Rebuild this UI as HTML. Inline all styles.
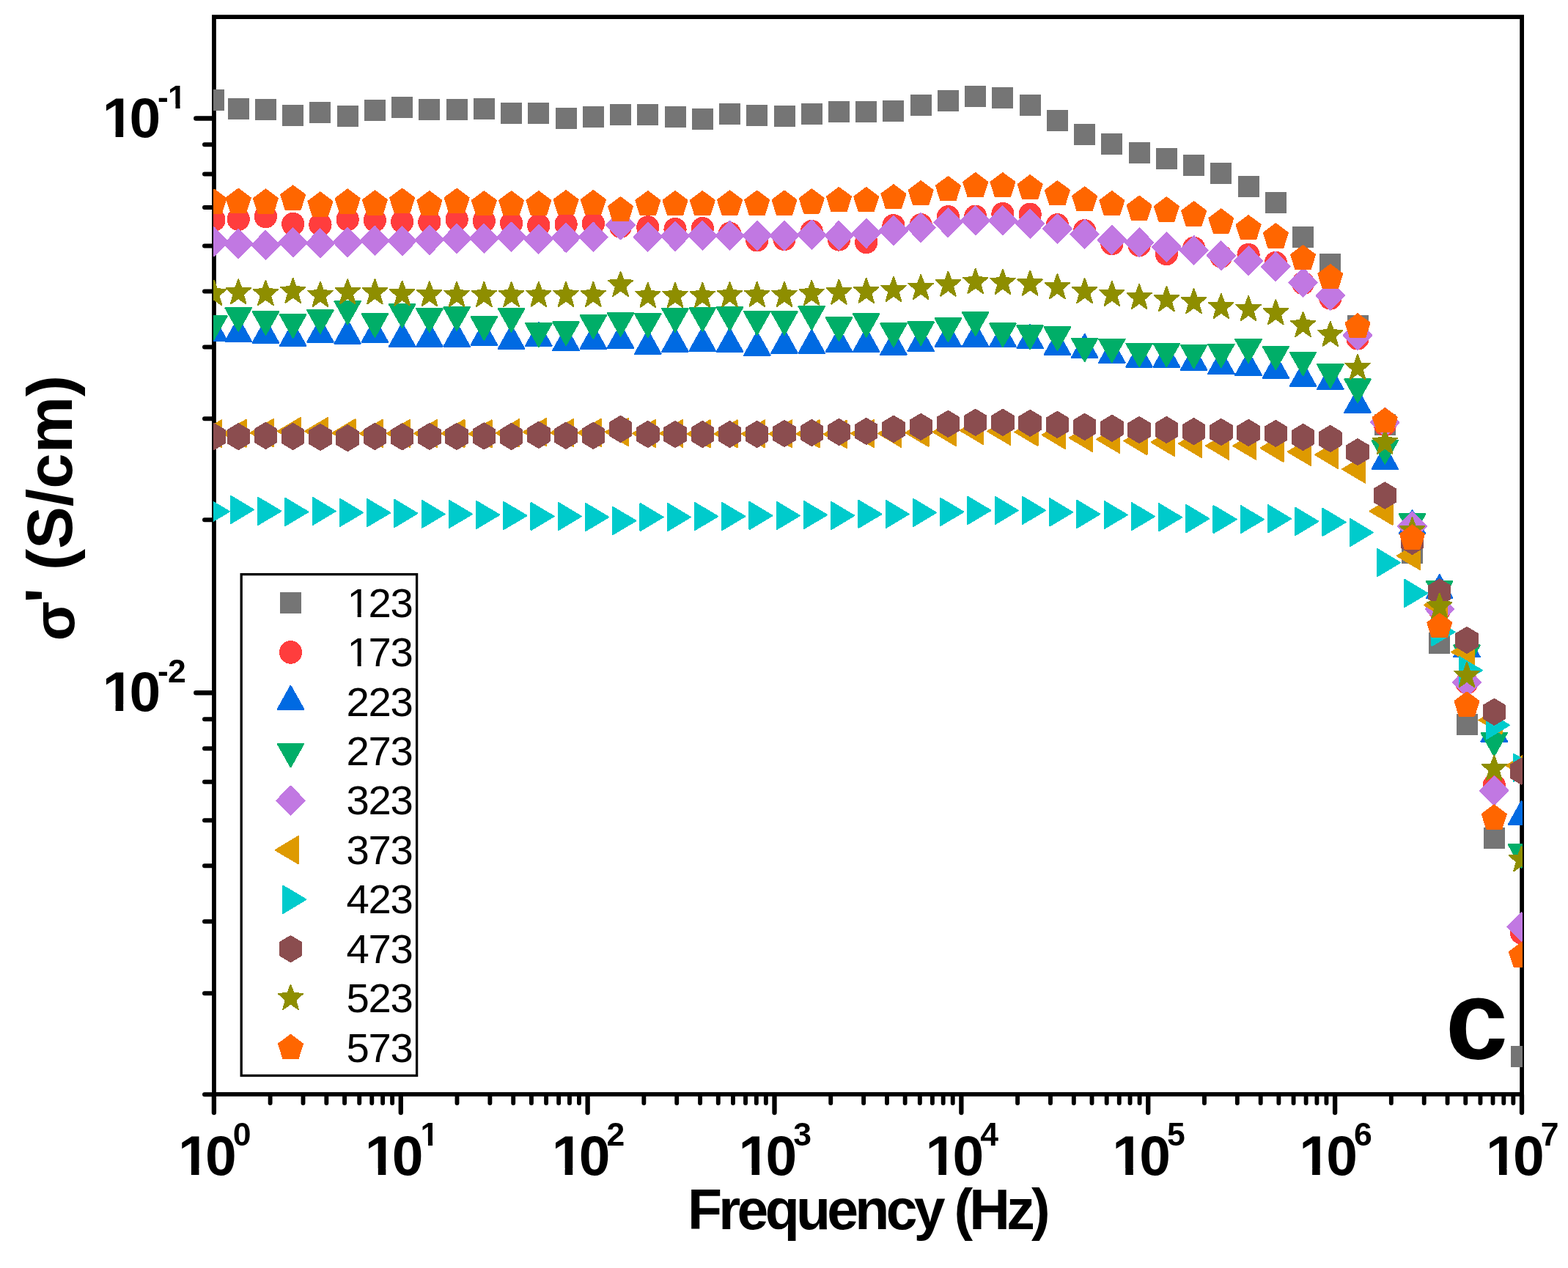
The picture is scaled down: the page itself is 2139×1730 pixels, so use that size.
<!DOCTYPE html>
<html lang="en"><head><meta charset="utf-8"><title>Conductivity vs frequency</title>
<style>html,body{margin:0;padding:0;background:#fff;overflow:hidden}svg{display:block}text{font-family:"Liberation Sans",sans-serif;fill:#000}.b{font-weight:bold}</style>
</head><body>
<svg width="2139" height="1730" viewBox="0 0 2139 1730" role="img" aria-label="Conductivity versus frequency at ten temperatures">
<rect width="2139" height="1730" fill="#fff"/>
<defs><clipPath id="pc"><rect x="290.9" y="23.1" width="1786.1" height="1469.9"/></clipPath></defs>
<g stroke="#000" stroke-linecap="round" fill="none">
<path stroke-width="6.3" d="M291.9 1494V1518M546.77 1494V1518M801.64 1494V1518M1056.51 1494V1518M1311.38 1494V1518M1566.25 1494V1518M1821.12 1494V1518M2075.99 1494V1518"/>
<path stroke-width="5.9" d="M368.62 1494V1505M413.5 1494V1505M445.35 1494V1505M470.05 1494V1505M490.23 1494V1505M507.29 1494V1505M522.07 1494V1505M535.11 1494V1505M623.49 1494V1505M668.37 1494V1505M700.22 1494V1505M724.92 1494V1505M745.1 1494V1505M762.16 1494V1505M776.94 1494V1505M789.98 1494V1505M878.36 1494V1505M923.24 1494V1505M955.09 1494V1505M979.79 1494V1505M999.97 1494V1505M1017.03 1494V1505M1031.81 1494V1505M1044.85 1494V1505M1133.23 1494V1505M1178.11 1494V1505M1209.96 1494V1505M1234.66 1494V1505M1254.84 1494V1505M1271.9 1494V1505M1286.68 1494V1505M1299.72 1494V1505M1388.1 1494V1505M1432.98 1494V1505M1464.83 1494V1505M1489.53 1494V1505M1509.71 1494V1505M1526.77 1494V1505M1541.55 1494V1505M1554.59 1494V1505M1642.97 1494V1505M1687.85 1494V1505M1719.7 1494V1505M1744.4 1494V1505M1764.58 1494V1505M1781.64 1494V1505M1796.42 1494V1505M1809.46 1494V1505M1897.84 1494V1505M1942.72 1494V1505M1974.57 1494V1505M1999.27 1494V1505M2019.45 1494V1505M2036.51 1494V1505M2051.29 1494V1505M2064.33 1494V1505"/>
<path stroke-width="6.6" d="M290.95 161.5H267.4M290.95 945.3H267.4"/>
<path stroke-width="6" d="M290.95 709.35H279M290.95 571.33H279M290.95 473.41H279M290.95 397.45H279M290.95 335.39H279M290.95 282.91H279M290.95 237.46H279M290.95 197.36H279M290.95 1493.15H279M290.95 1355.13H279M290.95 1257.21H279M290.95 1181.25H279M290.95 1119.19H279M290.95 1066.71H279M290.95 1021.26H279M290.95 981.16H279"/>
</g>
<rect x="291.95" y="23.1" width="1784.15" height="1469.9" fill="none" stroke="#000" stroke-width="5.8"/>
<g clip-path="url(#pc)" shape-rendering="crispEdges">
<g fill="#757575">
<rect x="277.4" y="121.5" width="29" height="29"/><rect x="310.7" y="133.5" width="29" height="29"/><rect x="347.94" y="135.4" width="29" height="29"/><rect x="385.18" y="143" width="29" height="29"/><rect x="422.42" y="138.5" width="29" height="29"/><rect x="459.66" y="143.5" width="29" height="29"/><rect x="496.9" y="135.9" width="29" height="29"/><rect x="534.14" y="132" width="29" height="29"/><rect x="571.38" y="135" width="29" height="29"/><rect x="608.62" y="135.4" width="29" height="29"/><rect x="645.86" y="133.5" width="29" height="29"/><rect x="683.1" y="140" width="29" height="29"/><rect x="720.34" y="140" width="29" height="29"/><rect x="757.58" y="146.5" width="29" height="29"/><rect x="794.82" y="144.5" width="29" height="29"/><rect x="832.06" y="141.9" width="29" height="29"/><rect x="869.3" y="141.9" width="29" height="29"/><rect x="906.54" y="145" width="29" height="29"/><rect x="943.78" y="148" width="29" height="29"/><rect x="981.02" y="140.6" width="29" height="29"/><rect x="1018.26" y="143" width="29" height="29"/><rect x="1055.5" y="143.5" width="29" height="29"/><rect x="1092.74" y="140.6" width="29" height="29"/><rect x="1129.98" y="138" width="29" height="29"/><rect x="1167.22" y="138" width="29" height="29"/><rect x="1204.46" y="137" width="29" height="29"/><rect x="1241.7" y="128.9" width="29" height="29"/><rect x="1278.94" y="122.9" width="29" height="29"/><rect x="1316.18" y="117" width="29" height="29"/><rect x="1353.42" y="119.4" width="29" height="29"/><rect x="1390.66" y="128.9" width="29" height="29"/><rect x="1427.9" y="149.6" width="29" height="29"/><rect x="1465.14" y="168.5" width="29" height="29"/><rect x="1502.38" y="182.4" width="29" height="29"/><rect x="1539.62" y="194" width="29" height="29"/><rect x="1576.86" y="202" width="29" height="29"/><rect x="1614.1" y="210.9" width="29" height="29"/><rect x="1651.34" y="221.9" width="29" height="29"/><rect x="1688.58" y="240.4" width="29" height="29"/><rect x="1725.82" y="261.5" width="29" height="29"/><rect x="1763.06" y="308.5" width="29" height="29"/><rect x="1800.3" y="346" width="29" height="29"/><rect x="1837.54" y="429.9" width="29" height="29"/><rect x="1874.78" y="564.8" width="29" height="29"/><rect x="1912.02" y="739.9" width="29" height="29"/><rect x="1949.26" y="862.8" width="29" height="29"/><rect x="1986.5" y="973.7" width="29" height="29"/><rect x="2023.74" y="1128.7" width="29" height="29"/><rect x="2060.98" y="1427" width="29" height="29"/>
</g>
<g fill="#ff3d3d">
<ellipse cx="291.9" cy="300" rx="15.6" ry="15.9"/><ellipse cx="325.2" cy="299" rx="15.6" ry="15.9"/><ellipse cx="362.44" cy="295.4" rx="15.6" ry="15.9"/><ellipse cx="399.68" cy="305.7" rx="15.6" ry="15.9"/><ellipse cx="436.92" cy="306.5" rx="15.6" ry="15.9"/><ellipse cx="474.16" cy="299.4" rx="15.6" ry="15.9"/><ellipse cx="511.4" cy="300.5" rx="15.6" ry="15.9"/><ellipse cx="548.64" cy="302.5" rx="15.6" ry="15.9"/><ellipse cx="585.88" cy="302.9" rx="15.6" ry="15.9"/><ellipse cx="623.12" cy="299.4" rx="15.6" ry="15.9"/><ellipse cx="660.36" cy="301.5" rx="15.6" ry="15.9"/><ellipse cx="697.6" cy="304.5" rx="15.6" ry="15.9"/><ellipse cx="734.84" cy="307.5" rx="15.6" ry="15.9"/><ellipse cx="772.08" cy="306" rx="15.6" ry="15.9"/><ellipse cx="809.32" cy="305" rx="15.6" ry="15.9"/><ellipse cx="846.56" cy="309.1" rx="15.6" ry="15.9"/><ellipse cx="883.8" cy="310.1" rx="15.6" ry="15.9"/><ellipse cx="921.04" cy="312.9" rx="15.6" ry="15.9"/><ellipse cx="958.28" cy="311.9" rx="15.6" ry="15.9"/><ellipse cx="995.52" cy="318.6" rx="15.6" ry="15.9"/><ellipse cx="1032.76" cy="327.6" rx="15.6" ry="15.9"/><ellipse cx="1070" cy="326.2" rx="15.6" ry="15.9"/><ellipse cx="1107.24" cy="315.9" rx="15.6" ry="15.9"/><ellipse cx="1144.48" cy="326.7" rx="15.6" ry="15.9"/><ellipse cx="1181.72" cy="330.3" rx="15.6" ry="15.9"/><ellipse cx="1218.96" cy="308" rx="15.6" ry="15.9"/><ellipse cx="1256.2" cy="307" rx="15.6" ry="15.9"/><ellipse cx="1293.44" cy="295.9" rx="15.6" ry="15.9"/><ellipse cx="1330.68" cy="295.5" rx="15.6" ry="15.9"/><ellipse cx="1367.92" cy="291.9" rx="15.6" ry="15.9"/><ellipse cx="1405.16" cy="292.5" rx="15.6" ry="15.9"/><ellipse cx="1442.4" cy="307" rx="15.6" ry="15.9"/><ellipse cx="1479.64" cy="315" rx="15.6" ry="15.9"/><ellipse cx="1516.88" cy="332.3" rx="15.6" ry="15.9"/><ellipse cx="1554.12" cy="334.4" rx="15.6" ry="15.9"/><ellipse cx="1591.36" cy="346.4" rx="15.6" ry="15.9"/><ellipse cx="1628.6" cy="338.6" rx="15.6" ry="15.9"/><ellipse cx="1665.84" cy="349.8" rx="15.6" ry="15.9"/><ellipse cx="1703.08" cy="347.8" rx="15.6" ry="15.9"/><ellipse cx="1740.32" cy="358.7" rx="15.6" ry="15.9"/><ellipse cx="1777.56" cy="386.4" rx="15.6" ry="15.9"/><ellipse cx="1814.8" cy="406.8" rx="15.6" ry="15.9"/><ellipse cx="1852.04" cy="461.7" rx="15.6" ry="15.9"/><ellipse cx="1889.28" cy="579.3" rx="15.6" ry="15.9"/><ellipse cx="1926.52" cy="719" rx="15.6" ry="15.9"/><ellipse cx="1963.76" cy="831.7" rx="15.6" ry="15.9"/><ellipse cx="2001" cy="931.6" rx="15.6" ry="15.9"/><ellipse cx="2038.24" cy="1071.7" rx="15.6" ry="15.9"/><ellipse cx="2075.48" cy="1272.5" rx="15.6" ry="15.9"/>
</g>
<g fill="#006ae2" stroke="#006ae2" stroke-width="2" stroke-linejoin="round">
<polygon points="291.9,432.7 309.7,464.7 274.1,464.7"/><polygon points="325.2,433.7 343,465.7 307.4,465.7"/><polygon points="362.44,435.7 380.24,467.7 344.64,467.7"/><polygon points="399.68,439.8 417.48,471.8 381.88,471.8"/><polygon points="436.92,434.7 454.72,466.7 419.12,466.7"/><polygon points="474.16,436.7 491.96,468.7 456.36,468.7"/><polygon points="511.4,434.7 529.2,466.7 493.6,466.7"/><polygon points="548.64,440.8 566.44,472.8 530.84,472.8"/><polygon points="585.88,440.8 603.68,472.8 568.08,472.8"/><polygon points="623.12,440.8 640.92,472.8 605.32,472.8"/><polygon points="660.36,438.7 678.16,470.7 642.56,470.7"/><polygon points="697.6,443.8 715.4,475.8 679.8,475.8"/><polygon points="734.84,439.8 752.64,471.8 717.04,471.8"/><polygon points="772.08,445.8 789.88,477.8 754.28,477.8"/><polygon points="809.32,443.8 827.12,475.8 791.52,475.8"/><polygon points="846.56,442.8 864.36,474.8 828.76,474.8"/><polygon points="883.8,450.8 901.6,482.8 866,482.8"/><polygon points="921.04,447.8 938.84,479.8 903.24,479.8"/><polygon points="958.28,446.8 976.08,478.8 940.48,478.8"/><polygon points="995.52,447.8 1013.32,479.8 977.72,479.8"/><polygon points="1032.76,452.8 1050.56,484.8 1014.96,484.8"/><polygon points="1070,449.8 1087.8,481.8 1052.2,481.8"/><polygon points="1107.24,449.8 1125.04,481.8 1089.44,481.8"/><polygon points="1144.48,447.9 1162.28,479.9 1126.68,479.9"/><polygon points="1181.72,447.9 1199.52,479.9 1163.92,479.9"/><polygon points="1218.96,451.9 1236.76,483.9 1201.16,483.9"/><polygon points="1256.2,446.9 1274,478.9 1238.4,478.9"/><polygon points="1293.44,440.9 1311.24,472.9 1275.64,472.9"/><polygon points="1330.68,440.9 1348.48,472.9 1312.88,472.9"/><polygon points="1367.92,440.9 1385.72,472.9 1350.12,472.9"/><polygon points="1405.16,442.9 1422.96,474.9 1387.36,474.9"/><polygon points="1442.4,451.9 1460.2,483.9 1424.6,483.9"/><polygon points="1479.64,455.9 1497.44,487.9 1461.84,487.9"/><polygon points="1516.88,462.9 1534.68,494.9 1499.08,494.9"/><polygon points="1554.12,468.6 1571.92,500.6 1536.32,500.6"/><polygon points="1591.36,468.6 1609.16,500.6 1573.56,500.6"/><polygon points="1628.6,472.8 1646.4,504.8 1610.8,504.8"/><polygon points="1665.84,478 1683.64,510 1648.04,510"/><polygon points="1703.08,479.8 1720.88,511.8 1685.28,511.8"/><polygon points="1740.32,483.8 1758.12,515.8 1722.52,515.8"/><polygon points="1777.56,494.9 1795.36,526.9 1759.76,526.9"/><polygon points="1814.8,498.9 1832.6,530.9 1797,530.9"/><polygon points="1852.04,530.8 1869.84,562.8 1834.24,562.8"/><polygon points="1889.28,607.9 1907.08,639.9 1871.48,639.9"/><polygon points="1926.52,696.1 1944.32,728.1 1908.72,728.1"/><polygon points="1963.76,783.9 1981.56,815.9 1945.96,815.9"/><polygon points="2001,864.2 2018.8,896.2 1983.2,896.2"/><polygon points="2038.24,979.7 2056.04,1011.7 2020.44,1011.7"/><polygon points="2075.48,1093.1 2093.28,1125.1 2057.68,1125.1"/>
</g>
<g fill="#00ae68" stroke="#00ae68" stroke-width="2" stroke-linejoin="round">
<polygon points="291.9,462.8 309.7,431.2 274.1,431.2"/><polygon points="325.2,451.8 343,420.2 307.4,420.2"/><polygon points="362.44,456.8 380.24,425.2 344.64,425.2"/><polygon points="399.68,460.8 417.48,429.2 381.88,429.2"/><polygon points="436.92,454.8 454.72,423.2 419.12,423.2"/><polygon points="474.16,442.7 491.96,411.1 456.36,411.1"/><polygon points="511.4,459.8 529.2,428.2 493.6,428.2"/><polygon points="548.64,446.8 566.44,415.2 530.84,415.2"/><polygon points="585.88,452.8 603.68,421.2 568.08,421.2"/><polygon points="623.12,450.8 640.92,419.2 605.32,419.2"/><polygon points="660.36,463.8 678.16,432.2 642.56,432.2"/><polygon points="697.6,452.8 715.4,421.2 679.8,421.2"/><polygon points="734.84,472.9 752.64,441.3 717.04,441.3"/><polygon points="772.08,470.9 789.88,439.3 754.28,439.3"/><polygon points="809.32,461.8 827.12,430.2 791.52,430.2"/><polygon points="846.56,458.8 864.36,427.2 828.76,427.2"/><polygon points="883.8,459.8 901.6,428.2 866,428.2"/><polygon points="921.04,452.8 938.84,421.2 903.24,421.2"/><polygon points="958.28,451.8 976.08,420.2 940.48,420.2"/><polygon points="995.52,450.8 1013.32,419.2 977.72,419.2"/><polygon points="1032.76,456.8 1050.56,425.2 1014.96,425.2"/><polygon points="1070,456.8 1087.8,425.2 1052.2,425.2"/><polygon points="1107.24,449.8 1125.04,418.2 1089.44,418.2"/><polygon points="1144.48,465 1162.28,433.4 1126.68,433.4"/><polygon points="1181.72,459.9 1199.52,428.3 1163.92,428.3"/><polygon points="1218.96,473 1236.76,441.4 1201.16,441.4"/><polygon points="1256.2,471 1274,439.4 1238.4,439.4"/><polygon points="1293.44,466 1311.24,434.4 1275.64,434.4"/><polygon points="1330.68,457.9 1348.48,426.3 1312.88,426.3"/><polygon points="1367.92,473 1385.72,441.4 1350.12,441.4"/><polygon points="1405.16,476 1422.96,444.4 1387.36,444.4"/><polygon points="1442.4,478 1460.2,446.4 1424.6,446.4"/><polygon points="1479.64,493.1 1497.44,461.5 1461.84,461.5"/><polygon points="1516.88,494.1 1534.68,462.5 1499.08,462.5"/><polygon points="1554.12,500.2 1571.92,468.6 1536.32,468.6"/><polygon points="1591.36,500.2 1609.16,468.6 1573.56,468.6"/><polygon points="1628.6,502.2 1646.4,470.6 1610.8,470.6"/><polygon points="1665.84,501.2 1683.64,469.6 1648.04,469.6"/><polygon points="1703.08,494.7 1720.88,463.1 1685.28,463.1"/><polygon points="1740.32,504.2 1758.12,472.6 1722.52,472.6"/><polygon points="1777.56,512.2 1795.36,480.6 1759.76,480.6"/><polygon points="1814.8,528.9 1832.6,497.3 1797,497.3"/><polygon points="1852.04,549 1869.84,517.4 1834.24,517.4"/><polygon points="1889.28,632.6 1907.08,601 1871.48,601"/><polygon points="1926.52,732.9 1944.32,701.3 1908.72,701.3"/><polygon points="1963.76,824.9 1981.56,793.3 1945.96,793.3"/><polygon points="2001,912 2018.8,880.4 1983.2,880.4"/><polygon points="2038.24,1031.3 2056.04,999.7 2020.44,999.7"/><polygon points="2075.48,1183.8 2093.28,1152.2 2057.68,1152.2"/>
</g>
<g fill="#c178e2" stroke="#c178e2" stroke-width="2" stroke-linejoin="round">
<polygon points="291.9,310.3 311.2,329.8 291.9,349.3 272.6,329.8"/><polygon points="325.2,313.1 344.5,332.6 325.2,352.1 305.9,332.6"/><polygon points="362.44,314.9 381.74,334.4 362.44,353.9 343.14,334.4"/><polygon points="399.68,311.2 418.98,330.7 399.68,350.2 380.38,330.7"/><polygon points="436.92,312.4 456.22,331.9 436.92,351.4 417.62,331.9"/><polygon points="474.16,310.9 493.46,330.4 474.16,349.9 454.86,330.4"/><polygon points="511.4,308.8 530.7,328.3 511.4,347.8 492.1,328.3"/><polygon points="548.64,309.1 567.94,328.6 548.64,348.1 529.34,328.6"/><polygon points="585.88,307.8 605.18,327.3 585.88,346.8 566.58,327.3"/><polygon points="623.12,306.2 642.42,325.7 623.12,345.2 603.82,325.7"/><polygon points="660.36,305.8 679.66,325.3 660.36,344.8 641.06,325.3"/><polygon points="697.6,303.7 716.9,323.2 697.6,342.7 678.3,323.2"/><polygon points="734.84,306.7 754.14,326.2 734.84,345.7 715.54,326.2"/><polygon points="772.08,304.7 791.38,324.2 772.08,343.7 752.78,324.2"/><polygon points="809.32,303.7 828.62,323.2 809.32,342.7 790.02,323.2"/><polygon points="846.56,287.4 865.86,306.9 846.56,326.4 827.26,306.9"/><polygon points="883.8,303.7 903.1,323.2 883.8,342.7 864.5,323.2"/><polygon points="921.04,302.7 940.34,322.2 921.04,341.7 901.74,322.2"/><polygon points="958.28,301.7 977.58,321.2 958.28,340.7 938.98,321.2"/><polygon points="995.52,301.9 1014.82,321.4 995.52,340.9 976.22,321.4"/><polygon points="1032.76,301.9 1052.06,321.4 1032.76,340.9 1013.46,321.4"/><polygon points="1070,301.9 1089.3,321.4 1070,340.9 1050.7,321.4"/><polygon points="1107.24,300.6 1126.54,320.1 1107.24,339.6 1087.94,320.1"/><polygon points="1144.48,301.9 1163.78,321.4 1144.48,340.9 1125.18,321.4"/><polygon points="1181.72,298.9 1201.02,318.4 1181.72,337.9 1162.42,318.4"/><polygon points="1218.96,294.9 1238.26,314.4 1218.96,333.9 1199.66,314.4"/><polygon points="1256.2,290.9 1275.5,310.4 1256.2,329.9 1236.9,310.4"/><polygon points="1293.44,284.1 1312.74,303.6 1293.44,323.1 1274.14,303.6"/><polygon points="1330.68,281.1 1349.98,300.6 1330.68,320.1 1311.38,300.6"/><polygon points="1367.92,281.4 1387.22,300.9 1367.92,320.4 1348.62,300.9"/><polygon points="1405.16,285.6 1424.46,305.1 1405.16,324.6 1385.86,305.1"/><polygon points="1442.4,292.6 1461.7,312.1 1442.4,331.6 1423.1,312.1"/><polygon points="1479.64,299.9 1498.94,319.4 1479.64,338.9 1460.34,319.4"/><polygon points="1516.88,307.7 1536.18,327.2 1516.88,346.7 1497.58,327.2"/><polygon points="1554.12,311.4 1573.42,330.9 1554.12,350.4 1534.82,330.9"/><polygon points="1591.36,317.5 1610.66,337 1591.36,356.5 1572.06,337"/><polygon points="1628.6,322 1647.9,341.5 1628.6,361 1609.3,341.5"/><polygon points="1665.84,329.3 1685.14,348.8 1665.84,368.3 1646.54,348.8"/><polygon points="1703.08,336.4 1722.38,355.9 1703.08,375.4 1683.78,355.9"/><polygon points="1740.32,344.1 1759.62,363.6 1740.32,383.1 1721.02,363.6"/><polygon points="1777.56,365.9 1796.86,385.4 1777.56,404.9 1758.26,385.4"/><polygon points="1814.8,383.6 1834.1,403.1 1814.8,422.6 1795.5,403.1"/><polygon points="1852.04,438.1 1871.34,457.6 1852.04,477.1 1832.74,457.6"/><polygon points="1889.28,556.6 1908.58,576.1 1889.28,595.6 1869.98,576.1"/><polygon points="1926.52,698.4 1945.82,717.9 1926.52,737.4 1907.22,717.9"/><polygon points="1963.76,811.5 1983.06,831 1963.76,850.5 1944.46,831"/><polygon points="2001,911.4 2020.3,930.9 2001,950.4 1981.7,930.9"/><polygon points="2038.24,1059.4 2057.54,1078.9 2038.24,1098.4 2018.94,1078.9"/><polygon points="2075.48,1245 2094.78,1264.5 2075.48,1284 2056.18,1264.5"/>
</g>
<g fill="#de9a00" stroke="#de9a00" stroke-width="2" stroke-linejoin="round">
<polygon points="271.13,591.8 302.28,573.25 302.28,610.35"/><polygon points="304.43,591.4 335.58,572.85 335.58,609.95"/><polygon points="341.67,590.6 372.82,572.05 372.82,609.15"/><polygon points="378.91,588.4 410.06,569.85 410.06,606.95"/><polygon points="416.15,588.4 447.3,569.85 447.3,606.95"/><polygon points="453.39,590.8 484.54,572.25 484.54,609.35"/><polygon points="490.63,591.4 521.78,572.85 521.78,609.95"/><polygon points="527.87,591.4 559.02,572.85 559.02,609.95"/><polygon points="565.11,591.4 596.26,572.85 596.26,609.95"/><polygon points="602.35,591.4 633.5,572.85 633.5,609.95"/><polygon points="639.59,591.9 670.74,573.35 670.74,610.45"/><polygon points="676.83,590.8 707.98,572.25 707.98,609.35"/><polygon points="714.07,589.5 745.22,570.95 745.22,608.05"/><polygon points="751.31,590.4 782.46,571.85 782.46,608.95"/><polygon points="788.55,590.4 819.7,571.85 819.7,608.95"/><polygon points="825.79,589.5 856.94,570.95 856.94,608.05"/><polygon points="863.03,591.4 894.18,572.85 894.18,609.95"/><polygon points="900.27,591.4 931.42,572.85 931.42,609.95"/><polygon points="937.51,591.9 968.66,573.35 968.66,610.45"/><polygon points="974.75,591.9 1005.9,573.35 1005.9,610.45"/><polygon points="1011.99,591.9 1043.14,573.35 1043.14,610.45"/><polygon points="1049.23,591.9 1080.38,573.35 1080.38,610.45"/><polygon points="1086.47,591.9 1117.62,573.35 1117.62,610.45"/><polygon points="1123.71,592.4 1154.86,573.85 1154.86,610.95"/><polygon points="1160.95,591.4 1192.1,572.85 1192.1,609.95"/><polygon points="1198.19,591.4 1229.34,572.85 1229.34,609.95"/><polygon points="1235.43,590.4 1266.58,571.85 1266.58,608.95"/><polygon points="1272.67,589.4 1303.82,570.85 1303.82,607.95"/><polygon points="1309.91,587.4 1341.06,568.85 1341.06,605.95"/><polygon points="1347.15,588.4 1378.3,569.85 1378.3,606.95"/><polygon points="1384.39,589.4 1415.54,570.85 1415.54,607.95"/><polygon points="1421.63,593.4 1452.78,574.85 1452.78,611.95"/><polygon points="1458.87,597.4 1490.02,578.85 1490.02,615.95"/><polygon points="1496.11,599.4 1527.26,580.85 1527.26,617.95"/><polygon points="1533.35,601.6 1564.5,583.05 1564.5,620.15"/><polygon points="1570.59,603.3 1601.74,584.75 1601.74,621.85"/><polygon points="1607.83,605.3 1638.98,586.75 1638.98,623.85"/><polygon points="1645.07,608.3 1676.22,589.75 1676.22,626.85"/><polygon points="1682.31,608.3 1713.46,589.75 1713.46,626.85"/><polygon points="1719.55,611.3 1750.7,592.75 1750.7,629.85"/><polygon points="1756.79,616.4 1787.94,597.85 1787.94,634.95"/><polygon points="1794.03,620.4 1825.18,601.85 1825.18,638.95"/><polygon points="1831.27,640.1 1862.42,621.55 1862.42,658.65"/><polygon points="1868.51,697.4 1899.66,678.85 1899.66,715.95"/><polygon points="1905.75,758.4 1936.9,739.85 1936.9,776.95"/><polygon points="1942.99,825.5 1974.14,806.95 1974.14,844.05"/><polygon points="1980.23,889.6 2011.38,871.05 2011.38,908.15"/><polygon points="2017.47,982.5 2048.62,963.95 2048.62,1001.05"/><polygon points="2054.71,1044.6 2085.86,1026.05 2085.86,1063.15"/>
</g>
<g fill="#00cbcc" stroke="#00cbcc" stroke-width="2" stroke-linejoin="round">
<polygon points="312.67,697.9 281.52,679.35 281.52,716.45"/><polygon points="345.97,695.4 314.82,676.85 314.82,713.95"/><polygon points="383.21,697.4 352.06,678.85 352.06,715.95"/><polygon points="420.45,698.4 389.3,679.85 389.3,716.95"/><polygon points="457.69,697.4 426.54,678.85 426.54,715.95"/><polygon points="494.93,699.4 463.78,680.85 463.78,717.95"/><polygon points="532.17,699.6 501.02,681.05 501.02,718.15"/><polygon points="569.41,700.4 538.26,681.85 538.26,718.95"/><polygon points="606.65,701.4 575.5,682.85 575.5,719.95"/><polygon points="643.89,701.4 612.74,682.85 612.74,719.95"/><polygon points="681.13,702.4 649.98,683.85 649.98,720.95"/><polygon points="718.37,703.5 687.22,684.95 687.22,722.05"/><polygon points="755.61,704.5 724.46,685.95 724.46,723.05"/><polygon points="792.85,704.5 761.7,685.95 761.7,723.05"/><polygon points="830.09,705.5 798.94,686.95 798.94,724.05"/><polygon points="867.33,710.5 836.18,691.95 836.18,729.05"/><polygon points="904.57,705.5 873.42,686.95 873.42,724.05"/><polygon points="941.81,705.5 910.66,686.95 910.66,724.05"/><polygon points="979.05,704.5 947.9,685.95 947.9,723.05"/><polygon points="1016.29,704.5 985.14,685.95 985.14,723.05"/><polygon points="1053.53,703.5 1022.38,684.95 1022.38,722.05"/><polygon points="1090.77,703.5 1059.62,684.95 1059.62,722.05"/><polygon points="1128.01,702.5 1096.86,683.95 1096.86,721.05"/><polygon points="1165.25,703.5 1134.1,684.95 1134.1,722.05"/><polygon points="1202.49,701.4 1171.34,682.85 1171.34,719.95"/><polygon points="1239.73,701.4 1208.58,682.85 1208.58,719.95"/><polygon points="1276.97,699.4 1245.82,680.85 1245.82,717.95"/><polygon points="1314.21,698.4 1283.06,679.85 1283.06,716.95"/><polygon points="1351.45,696.4 1320.3,677.85 1320.3,714.95"/><polygon points="1388.69,696.4 1357.54,677.85 1357.54,714.95"/><polygon points="1425.93,696.4 1394.78,677.85 1394.78,714.95"/><polygon points="1463.17,698.9 1432.02,680.35 1432.02,717.45"/><polygon points="1500.41,701.4 1469.26,682.85 1469.26,719.95"/><polygon points="1537.65,702.5 1506.5,683.95 1506.5,721.05"/><polygon points="1574.89,704.6 1543.74,686.05 1543.74,723.15"/><polygon points="1612.13,705.8 1580.98,687.25 1580.98,724.35"/><polygon points="1649.37,707.6 1618.22,689.05 1618.22,726.15"/><polygon points="1686.61,708.6 1655.46,690.05 1655.46,727.15"/><polygon points="1723.85,708.6 1692.7,690.05 1692.7,727.15"/><polygon points="1761.09,707.8 1729.94,689.25 1729.94,726.35"/><polygon points="1798.33,711.4 1767.18,692.85 1767.18,729.95"/><polygon points="1835.57,712.4 1804.42,693.85 1804.42,730.95"/><polygon points="1872.81,726.5 1841.66,707.95 1841.66,745.05"/><polygon points="1910.05,767.6 1878.9,749.05 1878.9,786.15"/><polygon points="1947.29,809.4 1916.14,790.85 1916.14,827.95"/><polygon points="1984.53,862.3 1953.38,843.75 1953.38,880.85"/><polygon points="2021.77,914.6 1990.62,896.05 1990.62,933.15"/><polygon points="2059.01,989.4 2027.86,970.85 2027.86,1007.95"/><polygon points="2096.25,1047.4 2065.1,1028.85 2065.1,1065.95"/>
</g>
<g fill="#8b4d4f" stroke="#8b4d4f" stroke-width="2" stroke-linejoin="round">
<polygon points="291.9,578 306.6,586.8 306.6,604.4 291.9,613.2 277.2,604.4 277.2,586.8"/><polygon points="325.2,578.1 339.9,586.9 339.9,604.5 325.2,613.3 310.5,604.5 310.5,586.9"/><polygon points="362.44,576.8 377.14,585.6 377.14,603.2 362.44,612 347.74,603.2 347.74,585.6"/><polygon points="399.68,577.9 414.38,586.7 414.38,604.3 399.68,613.1 384.98,604.3 384.98,586.7"/><polygon points="436.92,578.9 451.62,587.7 451.62,605.3 436.92,614.1 422.22,605.3 422.22,587.7"/><polygon points="474.16,580.1 488.86,588.9 488.86,606.5 474.16,615.3 459.46,606.5 459.46,588.9"/><polygon points="511.4,577.9 526.1,586.7 526.1,604.3 511.4,613.1 496.7,604.3 496.7,586.7"/><polygon points="548.64,578.3 563.34,587.1 563.34,604.7 548.64,613.5 533.94,604.7 533.94,587.1"/><polygon points="585.88,577.9 600.58,586.7 600.58,604.3 585.88,613.1 571.18,604.3 571.18,586.7"/><polygon points="623.12,577.9 637.82,586.7 637.82,604.3 623.12,613.1 608.42,604.3 608.42,586.7"/><polygon points="660.36,577.3 675.06,586.1 675.06,603.7 660.36,612.5 645.66,603.7 645.66,586.1"/><polygon points="697.6,577.9 712.3,586.7 712.3,604.3 697.6,613.1 682.9,604.3 682.9,586.7"/><polygon points="734.84,575.8 749.54,584.6 749.54,602.2 734.84,611 720.14,602.2 720.14,584.6"/><polygon points="772.08,576.7 786.78,585.5 786.78,603.1 772.08,611.9 757.38,603.1 757.38,585.5"/><polygon points="809.32,576.7 824.02,585.5 824.02,603.1 809.32,611.9 794.62,603.1 794.62,585.5"/><polygon points="846.56,567.8 861.26,576.6 861.26,594.2 846.56,603 831.86,594.2 831.86,576.6"/><polygon points="883.8,574.9 898.5,583.7 898.5,601.3 883.8,610.1 869.1,601.3 869.1,583.7"/><polygon points="921.04,574.9 935.74,583.7 935.74,601.3 921.04,610.1 906.34,601.3 906.34,583.7"/><polygon points="958.28,574.9 972.98,583.7 972.98,601.3 958.28,610.1 943.58,601.3 943.58,583.7"/><polygon points="995.52,574.9 1010.22,583.7 1010.22,601.3 995.52,610.1 980.82,601.3 980.82,583.7"/><polygon points="1032.76,574.9 1047.46,583.7 1047.46,601.3 1032.76,610.1 1018.06,601.3 1018.06,583.7"/><polygon points="1070,573.9 1084.7,582.7 1084.7,600.3 1070,609.1 1055.3,600.3 1055.3,582.7"/><polygon points="1107.24,572.9 1121.94,581.7 1121.94,599.3 1107.24,608.1 1092.54,599.3 1092.54,581.7"/><polygon points="1144.48,571.8 1159.18,580.6 1159.18,598.2 1144.48,607 1129.78,598.2 1129.78,580.6"/><polygon points="1181.72,570.8 1196.42,579.6 1196.42,597.2 1181.72,606 1167.02,597.2 1167.02,579.6"/><polygon points="1218.96,567.7 1233.66,576.5 1233.66,594.1 1218.96,602.9 1204.26,594.1 1204.26,576.5"/><polygon points="1256.2,564.7 1270.9,573.5 1270.9,591.1 1256.2,599.9 1241.5,591.1 1241.5,573.5"/><polygon points="1293.44,560.7 1308.14,569.5 1308.14,587.1 1293.44,595.9 1278.74,587.1 1278.74,569.5"/><polygon points="1330.68,558.7 1345.38,567.5 1345.38,585.1 1330.68,593.9 1315.98,585.1 1315.98,567.5"/><polygon points="1367.92,558.7 1382.62,567.5 1382.62,585.1 1367.92,593.9 1353.22,585.1 1353.22,567.5"/><polygon points="1405.16,559.7 1419.86,568.5 1419.86,586.1 1405.16,594.9 1390.46,586.1 1390.46,568.5"/><polygon points="1442.4,561.7 1457.1,570.5 1457.1,588.1 1442.4,596.9 1427.7,588.1 1427.7,570.5"/><polygon points="1479.64,564.7 1494.34,573.5 1494.34,591.1 1479.64,599.9 1464.94,591.1 1464.94,573.5"/><polygon points="1516.88,566.7 1531.58,575.5 1531.58,593.1 1516.88,601.9 1502.18,593.1 1502.18,575.5"/><polygon points="1554.12,568.9 1568.82,577.7 1568.82,595.3 1554.12,604.1 1539.42,595.3 1539.42,577.7"/><polygon points="1591.36,568.8 1606.06,577.6 1606.06,595.2 1591.36,604 1576.66,595.2 1576.66,577.6"/><polygon points="1628.6,571 1643.3,579.8 1643.3,597.4 1628.6,606.2 1613.9,597.4 1613.9,579.8"/><polygon points="1665.84,571.8 1680.54,580.6 1680.54,598.2 1665.84,607 1651.14,598.2 1651.14,580.6"/><polygon points="1703.08,572.8 1717.78,581.6 1717.78,599.2 1703.08,608 1688.38,599.2 1688.38,581.6"/><polygon points="1740.32,573.8 1755.02,582.6 1755.02,600.2 1740.32,609 1725.62,600.2 1725.62,582.6"/><polygon points="1777.56,578.9 1792.26,587.7 1792.26,605.3 1777.56,614.1 1762.86,605.3 1762.86,587.7"/><polygon points="1814.8,580.9 1829.5,589.7 1829.5,607.3 1814.8,616.1 1800.1,607.3 1800.1,589.7"/><polygon points="1852.04,599 1866.74,607.8 1866.74,625.4 1852.04,634.2 1837.34,625.4 1837.34,607.8"/><polygon points="1889.28,658.4 1903.98,667.2 1903.98,684.8 1889.28,693.6 1874.58,684.8 1874.58,667.2"/><polygon points="1926.52,720.9 1941.22,729.7 1941.22,747.3 1926.52,756.1 1911.82,747.3 1911.82,729.7"/><polygon points="1963.76,790.4 1978.46,799.2 1978.46,816.8 1963.76,825.6 1949.06,816.8 1949.06,799.2"/><polygon points="2001,855.8 2015.7,864.6 2015.7,882.2 2001,891 1986.3,882.2 1986.3,864.6"/><polygon points="2038.24,953.7 2052.94,962.5 2052.94,980.1 2038.24,988.9 2023.54,980.1 2023.54,962.5"/><polygon points="2075.48,1034.7 2090.18,1043.5 2090.18,1061.1 2075.48,1069.9 2060.78,1061.1 2060.78,1043.5"/>
</g>
<g fill="#8e8e00" stroke="#8e8e00" stroke-width="2" stroke-linejoin="round">
<polygon points="291.9,382.96 296.03,394.4 308.6,394.66 298.58,403.45 302.22,415.96 291.9,408.5 281.58,415.96 285.22,403.45 275.2,394.66 287.77,394.4"/><polygon points="325.2,381.36 329.33,392.8 341.9,393.06 331.88,401.85 335.52,414.36 325.2,406.9 314.88,414.36 318.52,401.85 308.5,393.06 321.07,392.8"/><polygon points="362.44,382.96 366.57,394.4 379.14,394.66 369.12,403.45 372.76,415.96 362.44,408.5 352.12,415.96 355.76,403.45 345.74,394.66 358.31,394.4"/><polygon points="399.68,379.96 403.81,391.4 416.38,391.66 406.36,400.45 410,412.96 399.68,405.5 389.36,412.96 393,400.45 382.98,391.66 395.55,391.4"/><polygon points="436.92,384.96 441.05,396.4 453.62,396.66 443.6,405.45 447.24,417.96 436.92,410.5 426.6,417.96 430.24,405.45 420.22,396.66 432.79,396.4"/><polygon points="474.16,381.36 478.29,392.8 490.86,393.06 480.84,401.85 484.48,414.36 474.16,406.9 463.84,414.36 467.48,401.85 457.46,393.06 470.03,392.8"/><polygon points="511.4,381.36 515.53,392.8 528.1,393.06 518.08,401.85 521.72,414.36 511.4,406.9 501.08,414.36 504.72,401.85 494.7,393.06 507.27,392.8"/><polygon points="548.64,383.56 552.77,395 565.34,395.26 555.32,404.05 558.96,416.56 548.64,409.1 538.32,416.56 541.96,404.05 531.94,395.26 544.51,395"/><polygon points="585.88,384.36 590.01,395.8 602.58,396.06 592.56,404.85 596.2,417.36 585.88,409.9 575.56,417.36 579.2,404.85 569.18,396.06 581.75,395.8"/><polygon points="623.12,384.96 627.25,396.4 639.82,396.66 629.8,405.45 633.44,417.96 623.12,410.5 612.8,417.96 616.44,405.45 606.42,396.66 618.99,396.4"/><polygon points="660.36,384.96 664.49,396.4 677.06,396.66 667.04,405.45 670.68,417.96 660.36,410.5 650.04,417.96 653.68,405.45 643.66,396.66 656.23,396.4"/><polygon points="697.6,384.96 701.73,396.4 714.3,396.66 704.28,405.45 707.92,417.96 697.6,410.5 687.28,417.96 690.92,405.45 680.9,396.66 693.47,396.4"/><polygon points="734.84,384.96 738.97,396.4 751.54,396.66 741.52,405.45 745.16,417.96 734.84,410.5 724.52,417.96 728.16,405.45 718.14,396.66 730.71,396.4"/><polygon points="772.08,384.96 776.21,396.4 788.78,396.66 778.76,405.45 782.4,417.96 772.08,410.5 761.76,417.96 765.4,405.45 755.38,396.66 767.95,396.4"/><polygon points="809.32,384.96 813.45,396.4 826.02,396.66 816,405.45 819.64,417.96 809.32,410.5 799,417.96 802.64,405.45 792.62,396.66 805.19,396.4"/><polygon points="846.56,370.86 850.69,382.3 863.26,382.56 853.24,391.35 856.88,403.86 846.56,396.4 836.24,403.86 839.88,391.35 829.86,382.56 842.43,382.3"/><polygon points="883.8,385.96 887.93,397.4 900.5,397.66 890.48,406.45 894.12,418.96 883.8,411.5 873.48,418.96 877.12,406.45 867.1,397.66 879.67,397.4"/><polygon points="921.04,385.96 925.17,397.4 937.74,397.66 927.72,406.45 931.36,418.96 921.04,411.5 910.72,418.96 914.36,406.45 904.34,397.66 916.91,397.4"/><polygon points="958.28,385.96 962.41,397.4 974.98,397.66 964.96,406.45 968.6,418.96 958.28,411.5 947.96,418.96 951.6,406.45 941.58,397.66 954.15,397.4"/><polygon points="995.52,384.96 999.65,396.4 1012.22,396.66 1002.2,405.45 1005.84,417.96 995.52,410.5 985.2,417.96 988.84,405.45 978.82,396.66 991.39,396.4"/><polygon points="1032.76,384.96 1036.89,396.4 1049.46,396.66 1039.44,405.45 1043.08,417.96 1032.76,410.5 1022.44,417.96 1026.08,405.45 1016.06,396.66 1028.63,396.4"/><polygon points="1070,384.96 1074.13,396.4 1086.7,396.66 1076.68,405.45 1080.32,417.96 1070,410.5 1059.68,417.96 1063.32,405.45 1053.3,396.66 1065.87,396.4"/><polygon points="1107.24,382.96 1111.37,394.4 1123.94,394.66 1113.92,403.45 1117.56,415.96 1107.24,408.5 1096.92,415.96 1100.56,403.45 1090.54,394.66 1103.11,394.4"/><polygon points="1144.48,381.66 1148.61,393.1 1161.18,393.36 1151.16,402.15 1154.8,414.66 1144.48,407.2 1134.16,414.66 1137.8,402.15 1127.78,393.36 1140.35,393.1"/><polygon points="1181.72,380.06 1185.85,391.5 1198.42,391.76 1188.4,400.55 1192.04,413.06 1181.72,405.6 1171.4,413.06 1175.04,400.55 1165.02,391.76 1177.59,391.5"/><polygon points="1218.96,378.06 1223.09,389.5 1235.66,389.76 1225.64,398.55 1229.28,411.06 1218.96,403.6 1208.64,411.06 1212.28,398.55 1202.26,389.76 1214.83,389.5"/><polygon points="1256.2,375.06 1260.33,386.5 1272.9,386.76 1262.88,395.55 1266.52,408.06 1256.2,400.6 1245.88,408.06 1249.52,395.55 1239.5,386.76 1252.07,386.5"/><polygon points="1293.44,370.66 1297.57,382.1 1310.14,382.36 1300.12,391.15 1303.76,403.66 1293.44,396.2 1283.12,403.66 1286.76,391.15 1276.74,382.36 1289.31,382.1"/><polygon points="1330.68,366.96 1334.81,378.4 1347.38,378.66 1337.36,387.45 1341,399.96 1330.68,392.5 1320.36,399.96 1324,387.45 1313.98,378.66 1326.55,378.4"/><polygon points="1367.92,367.96 1372.05,379.4 1384.62,379.66 1374.6,388.45 1378.24,400.96 1367.92,393.5 1357.6,400.96 1361.24,388.45 1351.22,379.66 1363.79,379.4"/><polygon points="1405.16,369.66 1409.29,381.1 1421.86,381.36 1411.84,390.15 1415.48,402.66 1405.16,395.2 1394.84,402.66 1398.48,390.15 1388.46,381.36 1401.03,381.1"/><polygon points="1442.4,374.06 1446.53,385.5 1459.1,385.76 1449.08,394.55 1452.72,407.06 1442.4,399.6 1432.08,407.06 1435.72,394.55 1425.7,385.76 1438.27,385.5"/><polygon points="1479.64,380.06 1483.77,391.5 1496.34,391.76 1486.32,400.55 1489.96,413.06 1479.64,405.6 1469.32,413.06 1472.96,400.55 1462.94,391.76 1475.51,391.5"/><polygon points="1516.88,384.06 1521.01,395.5 1533.58,395.76 1523.56,404.55 1527.2,417.06 1516.88,409.6 1506.56,417.06 1510.2,404.55 1500.18,395.76 1512.75,395.5"/><polygon points="1554.12,388.16 1558.25,399.6 1570.82,399.86 1560.8,408.65 1564.44,421.16 1554.12,413.7 1543.8,421.16 1547.44,408.65 1537.42,399.86 1549.99,399.6"/><polygon points="1591.36,391.16 1595.49,402.6 1608.06,402.86 1598.04,411.65 1601.68,424.16 1591.36,416.7 1581.04,424.16 1584.68,411.65 1574.66,402.86 1587.23,402.6"/><polygon points="1628.6,394.16 1632.73,405.6 1645.3,405.86 1635.28,414.65 1638.92,427.16 1628.6,419.7 1618.28,427.16 1621.92,414.65 1611.9,405.86 1624.47,405.6"/><polygon points="1665.84,401.16 1669.97,412.6 1682.54,412.86 1672.52,421.65 1676.16,434.16 1665.84,426.7 1655.52,434.16 1659.16,421.65 1649.14,412.86 1661.71,412.6"/><polygon points="1703.08,404.16 1707.21,415.6 1719.78,415.86 1709.76,424.65 1713.4,437.16 1703.08,429.7 1692.76,437.16 1696.4,424.65 1686.38,415.86 1698.95,415.6"/><polygon points="1740.32,409.26 1744.45,420.7 1757.02,420.96 1747,429.75 1750.64,442.26 1740.32,434.8 1730,442.26 1733.64,429.75 1723.62,420.96 1736.19,420.7"/><polygon points="1777.56,425.96 1781.69,437.4 1794.26,437.66 1784.24,446.45 1787.88,458.96 1777.56,451.5 1767.24,458.96 1770.88,446.45 1760.86,437.66 1773.43,437.4"/><polygon points="1814.8,438.96 1818.93,450.4 1831.5,450.66 1821.48,459.45 1825.12,471.96 1814.8,464.5 1804.48,471.96 1808.12,459.45 1798.1,450.66 1810.67,450.4"/><polygon points="1852.04,484.06 1856.17,495.5 1868.74,495.76 1858.72,504.55 1862.36,517.06 1852.04,509.6 1841.72,517.06 1845.36,504.55 1835.34,495.76 1847.91,495.5"/><polygon points="1889.28,585.96 1893.41,597.4 1905.98,597.66 1895.96,606.45 1899.6,618.96 1889.28,611.5 1878.96,618.96 1882.6,606.45 1872.58,597.66 1885.15,597.4"/><polygon points="1926.52,706.16 1930.65,717.6 1943.22,717.86 1933.2,726.65 1936.84,739.16 1926.52,731.7 1916.2,739.16 1919.84,726.65 1909.82,717.86 1922.39,717.6"/><polygon points="1963.76,809.86 1967.89,821.3 1980.46,821.56 1970.44,830.35 1974.08,842.86 1963.76,835.4 1953.44,842.86 1957.08,830.35 1947.06,821.56 1959.63,821.3"/><polygon points="2001,904.26 2005.13,915.7 2017.7,915.96 2007.68,924.75 2011.32,937.26 2001,929.8 1990.68,937.26 1994.32,924.75 1984.3,915.96 1996.87,915.7"/><polygon points="2038.24,1031.06 2042.37,1042.5 2054.94,1042.76 2044.92,1051.55 2048.56,1064.06 2038.24,1056.6 2027.92,1064.06 2031.56,1051.55 2021.54,1042.76 2034.11,1042.5"/><polygon points="2075.48,1155.36 2079.61,1166.8 2092.18,1167.06 2082.16,1175.85 2085.8,1188.36 2075.48,1180.9 2065.16,1188.36 2068.8,1175.85 2058.78,1167.06 2071.35,1166.8"/>
</g>
<g fill="#ff6600" stroke="#ff6600" stroke-width="2" stroke-linejoin="round">
<polygon points="291.9,258.5 308.4,270.8 302.1,290.7 281.7,290.7 275.4,270.8"/><polygon points="325.2,257.6 341.7,269.9 335.4,289.8 315,289.8 308.7,269.9"/><polygon points="362.44,258.4 378.94,270.7 372.64,290.6 352.24,290.6 345.94,270.7"/><polygon points="399.68,253.4 416.18,265.7 409.88,285.6 389.48,285.6 383.18,265.7"/><polygon points="436.92,262.4 453.42,274.7 447.12,294.6 426.72,294.6 420.42,274.7"/><polygon points="474.16,258.4 490.66,270.7 484.36,290.6 463.96,290.6 457.66,270.7"/><polygon points="511.4,260.4 527.9,272.7 521.6,292.6 501.2,292.6 494.9,272.7"/><polygon points="548.64,257.6 565.14,269.9 558.84,289.8 538.44,289.8 532.14,269.9"/><polygon points="585.88,261.2 602.38,273.5 596.08,293.4 575.68,293.4 569.38,273.5"/><polygon points="623.12,257.6 639.62,269.9 633.32,289.8 612.92,289.8 606.62,269.9"/><polygon points="660.36,261.2 676.86,273.5 670.56,293.4 650.16,293.4 643.86,273.5"/><polygon points="697.6,261.2 714.1,273.5 707.8,293.4 687.4,293.4 681.1,273.5"/><polygon points="734.84,261.1 751.34,273.4 745.04,293.3 724.64,293.3 718.34,273.4"/><polygon points="772.08,260.1 788.58,272.4 782.28,292.3 761.88,292.3 755.58,272.4"/><polygon points="809.32,260.1 825.82,272.4 819.52,292.3 799.12,292.3 792.82,272.4"/><polygon points="846.56,269.2 863.06,281.5 856.76,301.4 836.36,301.4 830.06,281.5"/><polygon points="883.8,261.1 900.3,273.4 894,293.3 873.6,293.3 867.3,273.4"/><polygon points="921.04,261.1 937.54,273.4 931.24,293.3 910.84,293.3 904.54,273.4"/><polygon points="958.28,261.1 974.78,273.4 968.48,293.3 948.08,293.3 941.78,273.4"/><polygon points="995.52,260.5 1012.02,272.8 1005.72,292.7 985.32,292.7 979.02,272.8"/><polygon points="1032.76,260.5 1049.26,272.8 1042.96,292.7 1022.56,292.7 1016.26,272.8"/><polygon points="1070,260.5 1086.5,272.8 1080.2,292.7 1059.8,292.7 1053.5,272.8"/><polygon points="1107.24,258.3 1123.74,270.6 1117.44,290.5 1097.04,290.5 1090.74,270.6"/><polygon points="1144.48,256 1160.98,268.3 1154.68,288.2 1134.28,288.2 1127.98,268.3"/><polygon points="1181.72,256 1198.22,268.3 1191.92,288.2 1171.52,288.2 1165.22,268.3"/><polygon points="1218.96,252.2 1235.46,264.5 1229.16,284.4 1208.76,284.4 1202.46,264.5"/><polygon points="1256.2,247.2 1272.7,259.5 1266.4,279.4 1246,279.4 1239.7,259.5"/><polygon points="1293.44,241.1 1309.94,253.4 1303.64,273.3 1283.24,273.3 1276.94,253.4"/><polygon points="1330.68,236.1 1347.18,248.4 1340.88,268.3 1320.48,268.3 1314.18,248.4"/><polygon points="1367.92,236.1 1384.42,248.4 1378.12,268.3 1357.72,268.3 1351.42,248.4"/><polygon points="1405.16,239.1 1421.66,251.4 1415.36,271.3 1394.96,271.3 1388.66,251.4"/><polygon points="1442.4,247.2 1458.9,259.5 1452.6,279.4 1432.2,279.4 1425.9,259.5"/><polygon points="1479.64,255.2 1496.14,267.5 1489.84,287.4 1469.44,287.4 1463.14,267.5"/><polygon points="1516.88,261.2 1533.38,273.5 1527.08,293.4 1506.68,293.4 1500.38,273.5"/><polygon points="1554.12,267.7 1570.62,280 1564.32,299.9 1543.92,299.9 1537.62,280"/><polygon points="1591.36,269.3 1607.86,281.6 1601.56,301.5 1581.16,301.5 1574.86,281.6"/><polygon points="1628.6,275.3 1645.1,287.6 1638.8,307.5 1618.4,307.5 1612.1,287.6"/><polygon points="1665.84,285.4 1682.34,297.7 1676.04,317.6 1655.64,317.6 1649.34,297.7"/><polygon points="1703.08,294.2 1719.58,306.5 1713.28,326.4 1692.88,326.4 1686.58,306.5"/><polygon points="1740.32,305.3 1756.82,317.6 1750.52,337.5 1730.12,337.5 1723.82,317.6"/><polygon points="1777.56,335.1 1794.06,347.4 1787.76,367.3 1767.36,367.3 1761.06,347.4"/><polygon points="1814.8,361.2 1831.3,373.5 1825,393.4 1804.6,393.4 1798.3,373.5"/><polygon points="1852.04,428.2 1868.54,440.5 1862.24,460.4 1841.84,460.4 1835.54,440.5"/><polygon points="1889.28,557.1 1905.78,569.4 1899.48,589.3 1879.08,589.3 1872.78,569.4"/><polygon points="1926.52,716.4 1943.02,728.7 1936.72,748.6 1916.32,748.6 1910.02,728.7"/><polygon points="1963.76,837.2 1980.26,849.5 1973.96,869.4 1953.56,869.4 1947.26,849.5"/><polygon points="2001,944.4 2017.5,956.7 2011.2,976.6 1990.8,976.6 1984.5,956.7"/><polygon points="2038.24,1098.4 2054.74,1110.7 2048.44,1130.6 2028.04,1130.6 2021.74,1110.7"/><polygon points="2075.48,1286.5 2091.98,1298.8 2085.68,1318.7 2065.28,1318.7 2058.98,1298.8"/>
</g>
</g>
<rect x="329.2" y="783.6" width="239.4" height="683.9" fill="#fff" stroke="#000" stroke-width="3.3"/>
<g shape-rendering="crispEdges" fill="#757575"><rect x="382" y="807.9" width="29" height="29"/></g>
<text x="472.5" y="841.6" font-size="56.3" letter-spacing="-1.25"><tspan dx="1">1</tspan><tspan dx="-1">23</tspan></text>
<path fill="#fff" d="M476.88 836.39h10.78v6.21h-10.78zM492.63 836.39h10.13v6.21h-10.13z"/>
<g shape-rendering="crispEdges" fill="#ff3d3d"><ellipse cx="396.5" cy="889.87" rx="15.6" ry="15.9"/></g>
<text x="472.5" y="909.07" font-size="56.3" letter-spacing="-1.25"><tspan dx="1">1</tspan><tspan dx="-1">73</tspan></text>
<path fill="#fff" d="M476.88 903.86h10.78v6.21h-10.78zM492.63 903.86h10.13v6.21h-10.13z"/>
<g shape-rendering="crispEdges" fill="#006ae2" stroke="#006ae2" stroke-width="2" stroke-linejoin="round"><polygon points="396.5,935.74 414.3,967.74 378.7,967.74"/></g>
<text x="472.5" y="976.54" font-size="56.3" letter-spacing="-1.25">223</text>
<g shape-rendering="crispEdges" fill="#00ae68" stroke="#00ae68" stroke-width="2" stroke-linejoin="round"><polygon points="396.5,1046.41 414.3,1014.81 378.7,1014.81"/></g>
<text x="472.5" y="1044.01" font-size="56.3" letter-spacing="-1.25">273</text>
<g shape-rendering="crispEdges" fill="#c178e2" stroke="#c178e2" stroke-width="2" stroke-linejoin="round"><polygon points="396.5,1072.78 415.8,1092.28 396.5,1111.78 377.2,1092.28"/></g>
<text x="472.5" y="1111.48" font-size="56.3" letter-spacing="-1.25">323</text>
<g shape-rendering="crispEdges" fill="#de9a00" stroke="#de9a00" stroke-width="2" stroke-linejoin="round"><polygon points="375.73,1159.75 406.88,1141.2 406.88,1178.3"/></g>
<text x="472.5" y="1178.95" font-size="56.3" letter-spacing="-1.25">373</text>
<g shape-rendering="crispEdges" fill="#00cbcc" stroke="#00cbcc" stroke-width="2" stroke-linejoin="round"><polygon points="417.27,1227.22 386.12,1208.67 386.12,1245.77"/></g>
<text x="472.5" y="1246.42" font-size="56.3" letter-spacing="-1.25">423</text>
<g shape-rendering="crispEdges" fill="#8b4d4f" stroke="#8b4d4f" stroke-width="2" stroke-linejoin="round"><polygon points="396.5,1277.09 411.2,1285.89 411.2,1303.49 396.5,1312.29 381.8,1303.49 381.8,1285.89"/></g>
<text x="472.5" y="1313.89" font-size="56.3" letter-spacing="-1.25">473</text>
<g shape-rendering="crispEdges" fill="#8e8e00" stroke="#8e8e00" stroke-width="2" stroke-linejoin="round"><polygon points="396.5,1343.92 400.63,1355.36 413.2,1355.62 403.18,1364.41 406.82,1376.92 396.5,1369.46 386.18,1376.92 389.82,1364.41 379.8,1355.62 392.37,1355.36"/></g>
<text x="472.5" y="1381.36" font-size="56.3" letter-spacing="-1.25">523</text>
<g shape-rendering="crispEdges" fill="#ff6600" stroke="#ff6600" stroke-width="2" stroke-linejoin="round"><polygon points="396.5,1411.83 413,1424.13 406.7,1444.03 386.3,1444.03 380,1424.13"/></g>
<text x="472.5" y="1448.83" font-size="56.3" letter-spacing="-1.25">573</text>
<text class="b" x="243" y="1602.8" font-size="76.8" letter-spacing="-5.8">10<tspan font-size="44.5" dy="-39.8" dx="0.9" letter-spacing="-0.7">0</tspan></text><path fill="#fff" d="M246.07 1593.96h14.85v9.84h-14.85zM271.46 1593.96h13.44v9.84h-13.44z"/>
<text class="b" x="497.87" y="1602.8" font-size="76.8" letter-spacing="-5.8">10<tspan font-size="44.5" dy="-39.8" dx="1.9" letter-spacing="-0.7">1</tspan></text><path fill="#fff" d="M500.94 1593.96h14.85v9.84h-14.85zM526.33 1593.96h13.44v9.84h-13.44zM575.37 1557.46h8.61v6.54h-8.61zM590.09 1557.46h8.01v6.54h-8.01z"/>
<text class="b" x="752.74" y="1602.8" font-size="76.8" letter-spacing="-5.8">10<tspan font-size="44.5" dy="-39.8" dx="0.9" letter-spacing="-0.7">2</tspan></text><path fill="#fff" d="M755.81 1593.96h14.85v9.84h-14.85zM781.2 1593.96h13.44v9.84h-13.44z"/>
<text class="b" x="1007.61" y="1602.8" font-size="76.8" letter-spacing="-5.8">10<tspan font-size="44.5" dy="-39.8" dx="0.9" letter-spacing="-0.7">3</tspan></text><path fill="#fff" d="M1010.68 1593.96h14.85v9.84h-14.85zM1036.07 1593.96h13.44v9.84h-13.44z"/>
<text class="b" x="1262.48" y="1602.8" font-size="76.8" letter-spacing="-5.8">10<tspan font-size="44.5" dy="-39.8" dx="0.9" letter-spacing="-0.7">4</tspan></text><path fill="#fff" d="M1265.55 1593.96h14.85v9.84h-14.85zM1290.94 1593.96h13.44v9.84h-13.44z"/>
<text class="b" x="1517.35" y="1602.8" font-size="76.8" letter-spacing="-5.8">10<tspan font-size="44.5" dy="-39.8" dx="0.9" letter-spacing="-0.7">5</tspan></text><path fill="#fff" d="M1520.42 1593.96h14.85v9.84h-14.85zM1545.81 1593.96h13.44v9.84h-13.44z"/>
<text class="b" x="1772.22" y="1602.8" font-size="76.8" letter-spacing="-5.8">10<tspan font-size="44.5" dy="-39.8" dx="0.9" letter-spacing="-0.7">6</tspan></text><path fill="#fff" d="M1775.29 1593.96h14.85v9.84h-14.85zM1800.68 1593.96h13.44v9.84h-13.44z"/>
<text class="b" x="2027.09" y="1602.8" font-size="76.8" letter-spacing="-5.8">10<tspan font-size="44.5" dy="-39.8" dx="0.9" letter-spacing="-0.7">7</tspan></text><path fill="#fff" d="M2030.16 1593.96h14.85v9.84h-14.85zM2055.55 1593.96h13.44v9.84h-13.44z"/>
<text class="b" x="139.7" y="187" font-size="76.8" letter-spacing="-5.8">10<tspan font-size="44.5" dy="-38.9" dx="1.45" letter-spacing="-0.7">-1</tspan></text><path fill="#fff" d="M142.77 178.16h14.85v9.84h-14.85zM168.16 178.16h13.44v9.84h-13.44zM230.87 142.56h8.61v6.54h-8.61zM245.58 142.56h8.01v6.54h-8.01z"/>
<text class="b" x="139.7" y="969.8" font-size="76.8" letter-spacing="-5.8">10<tspan font-size="44.5" dy="-38.9" dx="1.45" letter-spacing="-0.7">-2</tspan></text><path fill="#fff" d="M142.77 960.96h14.85v9.84h-14.85zM168.16 960.96h13.44v9.84h-13.44z"/>
<text class="b" x="1183" y="1676.8" font-size="77" text-anchor="middle" letter-spacing="-4.74">Frequency (Hz)</text>
<text class="b" transform="translate(100.6 874.2) rotate(-90)" font-size="79">σ</text>
<text class="b" transform="translate(97.6 822.8) rotate(-90)" font-size="87"><tspan dy="-3">'</tspan><tspan dy="3"> (S/cm)</tspan></text>
<text class="b" x="1971.8" y="1444.6" font-size="153.3">c</text>
</svg>
</body></html>
